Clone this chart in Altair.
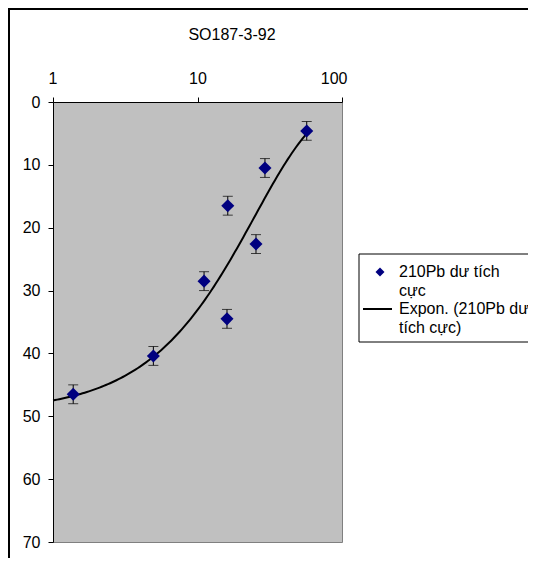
import altair as alt
import pandas as pd

# --- data ---
activity = [1.38, 4.95, 11.1, 16.0, 16.2, 25.4, 29.3, 57.0]
depth = [46.5, 40.4, 28.5, 34.5, 16.5, 22.6, 10.5, 4.6]
error = [1.5, 1.5, 1.5, 1.5, 1.5, 1.5, 1.5, 1.5]

title_text = "SO187-3-92"
x_ticks = [1, 10, 100]
y_ticks = [0, 10, 20, 30, 40, 50, 60, 70]
legend_points = ["210Pb dư tích", "cực"]
legend_line = ["Expon. (210Pb dư", "tích cực)"]
trend_extent = [1, 57]

FONT = "Liberation Sans"
FS = 16

df = pd.DataFrame({
    "x": activity,
    "y": depth,
    "lo": [d - e for d, e in zip(depth, error)],
    "hi": [d + e for d, e in zip(depth, error)],
})
one = pd.DataFrame({"a": [0]})

xs = alt.Scale(type="log", domain=[1, 100])
ys = alt.Scale(domain=[0, 70], reverse=True)

xenc = alt.X("x:Q", scale=xs, axis=alt.Axis(
    orient="top", values=x_ticks, title=None, grid=False, tickSize=5,
    labelPadding=11, labelFlush=True, labelFlushOffset=5,
    domainColor="black", tickColor="black", format="d",
    labelFont=FONT, labelFontSize=FS, labelColor="black"))
yaxis = alt.Axis(values=y_ticks, title=None, grid=False, tickSize=5,
                 labelPadding=8, domainColor="black", tickColor="black",
                 labelFont=FONT, labelFontSize=FS, labelColor="black")

base = alt.Chart(df)

err_rule = base.mark_rule(color="black", strokeWidth=1).encode(
    x=xenc, y=alt.Y("lo:Q", scale=ys, axis=yaxis), y2="hi:Q")
cap_lo = base.mark_tick(color="black", size=10, thickness=1, orient="horizontal").encode(
    x=xenc, y=alt.Y("lo:Q", scale=ys, axis=yaxis))
cap_hi = base.mark_tick(color="black", size=10, thickness=1, orient="horizontal").encode(
    x=xenc, y=alt.Y("hi:Q", scale=ys, axis=yaxis))

points = base.mark_point(shape="diamond", filled=True, color="#000080",
                         size=170, opacity=1, strokeWidth=0).encode(
    x=xenc, y=alt.Y("y:Q", scale=ys, axis=yaxis))

# exponential trendline: coefficients from Vega's regression, sampled evenly on the log axis
u0 = "log(%s)/LN10" % trend_extent[0]
u1 = "log(%s)/LN10" % trend_extent[1]
trend = (
    base.transform_regression("x", "y", method="exp", params=True)
    .transform_calculate(u="sequence(%s, %s + 0.0001, (%s - %s) / 120)" % (u0, u1, u1, u0))
    .transform_flatten(["u"])
    .transform_calculate(x="pow(10, datum.u)")
    .transform_calculate(y="datum.coef[0] * exp(datum.coef[1] * datum.x)")
    .mark_line(color="black", strokeWidth=2)
    .encode(x=xenc, y=alt.Y("y:Q", scale=ys, axis=yaxis), order="u:Q")
)

# chart-area border (left and top visible)
border_left = alt.Chart(one).mark_rule(color="black", strokeWidth=2).encode(
    x=alt.value(-44), y=alt.value(-93), y2=alt.value(470))
border_top = alt.Chart(one).mark_rule(color="black", strokeWidth=2).encode(
    x=alt.value(-45), x2=alt.value(475), y=alt.value(-93))

title = alt.Chart(one).mark_text(font=FONT, fontSize=FS, color="black",
                                 align="center", baseline="middle").encode(
    x=alt.value(179), y=alt.value(-67), text=alt.value(title_text))

# legend
leg_box = alt.Chart(one).mark_rect(fill="white", stroke="black", strokeWidth=1).encode(
    x=alt.value(306), x2=alt.value(520), y=alt.value(152), y2=alt.value(240))
leg_diamond = alt.Chart(one).mark_point(shape="diamond", filled=True, color="#000080",
                                        size=81, opacity=1, strokeWidth=0).encode(
    x=alt.value(327), y=alt.value(170))
leg_text1 = alt.Chart(one).mark_text(font=FONT, fontSize=FS, color="black", align="left",
                                     baseline="middle", lineHeight=18.5).encode(
    x=alt.value(346), y=alt.value(170), text=alt.value(legend_points))
leg_line = alt.Chart(one).mark_rule(color="black", strokeWidth=2).encode(
    x=alt.value(310), x2=alt.value(339), y=alt.value(207))
leg_text2 = alt.Chart(one).mark_text(font=FONT, fontSize=FS, color="black", align="left",
                                     baseline="middle", lineHeight=18.5).encode(
    x=alt.value(346), y=alt.value(207), text=alt.value(legend_line))

chart = alt.layer(
    trend, err_rule, cap_lo, cap_hi, points,
    border_left, border_top, title,
    leg_box, leg_diamond, leg_text1, leg_line, leg_text2,
).properties(
    width=289, height=440,
    autosize=alt.AutoSizeParams(type="none"),
    padding={"left": 45, "top": 94, "right": 186, "bottom": 16},
    background="white",
).configure_view(
    fill="#C0C0C0", stroke="#808080", strokeWidth=1
)

chart.save("out.html", embed_options={"renderer": "svg", "actions": False})
